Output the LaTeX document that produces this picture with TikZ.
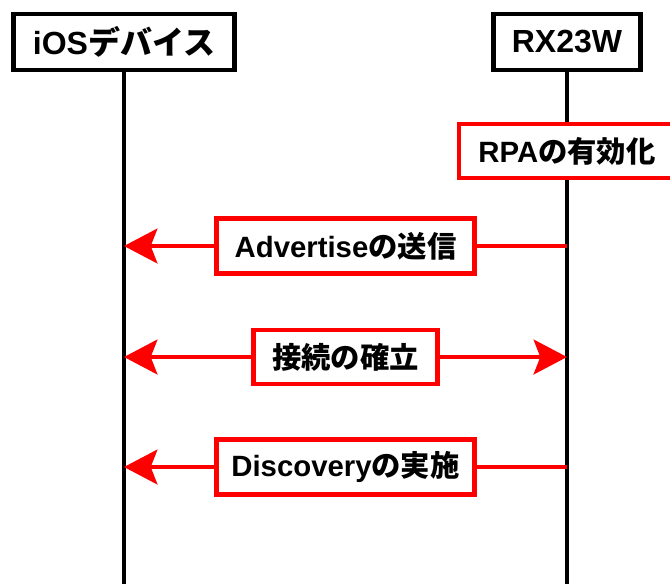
\documentclass[tikz,border=0pt]{standalone}
\usepackage{fontspec}
\setmainfont{Liberation Sans}
\newfontfamily\jp{Noto Sans CJK JP}
\usetikzlibrary{arrows.meta}
\tikzset{
  head/.style={draw, line width=3.5pt, minimum height=42pt, inner sep=0pt,
    font=\fontsize{24}{28}\selectfont\bfseries},
  msgbox/.style={draw=red, fill=white, text=black, line width=3.5pt, minimum height=41pt, inner sep=0pt,
    font=\fontsize{22}{26}\selectfont\bfseries},
  msg/.style={red, line width=3.5pt},
  life/.style={line width=3.5pt},
}
\begin{document}
\begin{tikzpicture}[x=0.75pt, y=-0.75pt, line join=miter,
  >={Stealth[length=25pt, width=26pt, inset=5pt]}]
\def\xl{124} \def\xr{567} \def\yb{583}
\useasboundingbox (0,0) rectangle (670,583);
% lifelines
\node[head, minimum width=166pt] (ios) at (\xl,42) {iOS{\jp デバイス}};
\node[head, minimum width=110pt] (rx) at (\xr,42) {RX23W};
\coordinate (iosend) at (\xl,\yb+5);
\coordinate (rxend) at (\xr,\yb+5);
\draw[life] (ios) -- (iosend);
\draw[life] (rx) -- (rxend);
\node[msgbox, minimum width=162pt, minimum height=40.5pt] (rpa) at (\xr,151) {RPA{\jp の有効化}};
% messages
\coordinate (l1) at (\xl,246); \coordinate (r1) at (\xr,246);
\coordinate (l2) at (\xl,357); \coordinate (r2) at (\xr,357);
\coordinate (l3) at (\xl,467); \coordinate (r3) at (\xr,467);
\draw[msg,->] (r1) -- node[msgbox, minimum width=193.5pt] (adv) {Advertise{\jp の送信}} (l1);
\draw[msg,<->] (l2) -- node[msgbox, minimum width=138pt, minimum height=40.5pt] (conn) {{\jp 接続の確立}} (r2);
\draw[msg,->] (r3) -- node[msgbox, minimum width=193.5pt] (disc) {Discovery{\jp の実施}} (l3);
\end{tikzpicture}
\end{document}
